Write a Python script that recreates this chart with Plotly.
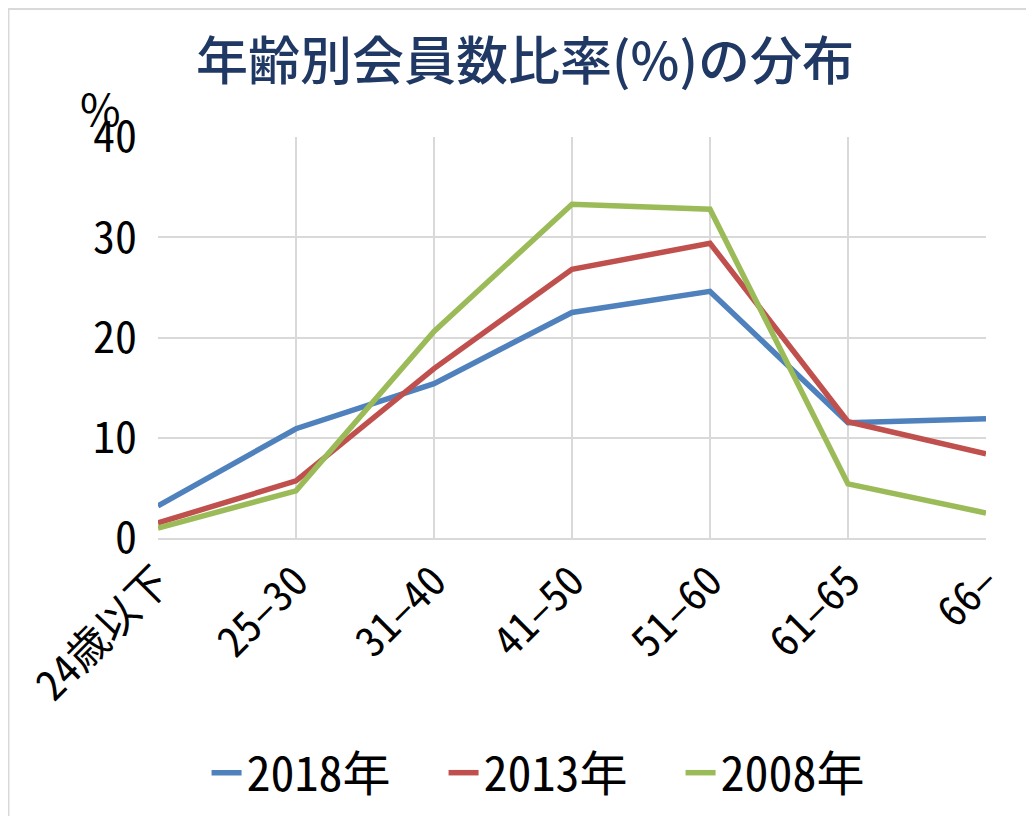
import plotly.graph_objects as go

categories = ["24歳以下", "25–30", "31–40", "41–50", "51–60", "61–65", "66–"]
s2018 = [3.2, 10.9, 15.4, 22.5, 24.6, 11.5, 11.9]
s2013 = [1.5, 5.7, 16.9, 26.8, 29.4, 11.6, 8.4]
s2008 = [1.0, 4.7, 20.6, 33.3, 32.8, 5.4, 2.5]
series_names = ["2018年", "2013年", "2008年"]
colors = ["#4F81BD", "#C0504D", "#9BBB59"]
y_ticks = [0, 10, 20, 30, 40]

FONT = "Noto Sans Mono CJK JP, Noto Sans CJK JP, sans-serif"

fig = go.Figure()
for name, vals, c in zip(series_names, [s2018, s2013, s2008], colors):
    fig.add_trace(go.Scatter(
        x=list(range(len(categories))), y=vals, name=name, mode="lines",
        line=dict(color=c, width=5.5),
    ))

fig.update_layout(
    width=1034, height=816,
    margin=dict(l=150, r=56, t=129, b=286),
    paper_bgcolor="white", plot_bgcolor="white",
    title=dict(text="年齢別会員数比率(%)の分布", x=0.5, xanchor="center",
               y=0.934, yanchor="middle",
               font=dict(family="Noto Sans CJK JP", size=52, color="#203864",
                         weight=500)),
    font=dict(family=FONT, color="black"),
    xaxis=dict(
        range=[0, 6], tickmode="array", tickvals=list(range(len(categories))),
        ticktext=categories, tickangle=-45, automargin=False,
        showgrid=True, gridcolor="#D9D9D9", gridwidth=2,
        showline=True, linecolor="#D9D9D9", linewidth=2,
        zeroline=False, ticks="", tickfont=dict(size=42, family=FONT),
    ),
    yaxis=dict(
        range=[0, 40], tickmode="array", tickvals=y_ticks, automargin=False,
        showgrid=True, gridcolor="#D9D9D9", gridwidth=2,
        zeroline=False, ticks="", tickfont=dict(size=44, family=FONT),
        ticklabelstandoff=20,
    ),
    legend=dict(orientation="h", x=0.488, xanchor="center", y=-0.586, yanchor="middle",
                font=dict(size=48, family=FONT), itemwidth=30,
                entrywidthmode="pixels", entrywidth=192),
    showlegend=True,
)

fig.add_annotation(text="%", xref="paper", yref="paper", x=-0.070, y=1.075,
                   xanchor="center", yanchor="middle",
                   showarrow=False,
                   font=dict(size=44, family="Noto Sans CJK JP", color="black"))

fig.add_shape(type="rect", xref="paper", yref="paper",
              x0=-0.1806, x1=1.08, y0=-0.75, y1=1.319,
              line=dict(color="#D9D9D9", width=2), fillcolor="rgba(0,0,0,0)")

fig.write_html("out.html")
